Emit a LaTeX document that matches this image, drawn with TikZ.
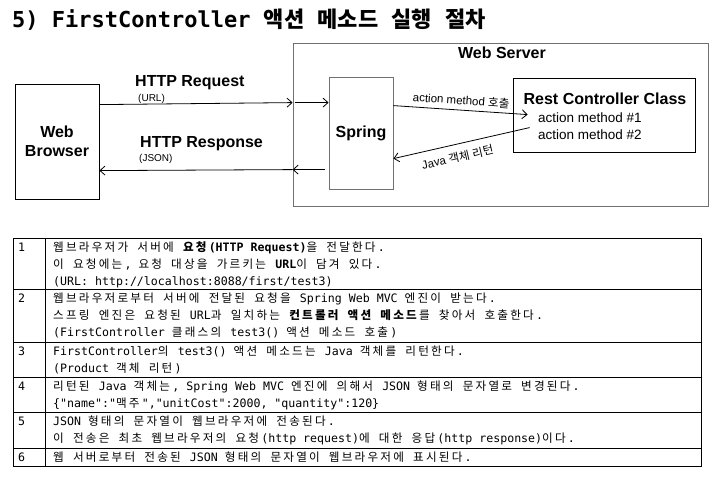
\documentclass[tikz,border=0pt]{standalone}
\usepackage{fontspec}
\setmainfont{Liberation Sans}
\setmonofont{DejaVu Sans Mono}
\newfontfamily\krfont{Noto Sans CJK KR}
\usetikzlibrary{arrows.meta,positioning}
\definecolor{boxgray}{RGB}{112,112,112}
% Hangul goes to the Korean font, everything else keeps the current one
\newdimen\hgap \hgap=0pt
\XeTeXinterchartokenstate=1
\newXeTeXintercharclass\hangul
\newcount\hcode
\hcode="AC00
\loop
  \XeTeXcharclass\hcode=\hangul
  \advance\hcode by 1
\ifnum\hcode<"D7A4 \repeat
\newcount\ocls
\ocls=0
\loop
  \XeTeXinterchartoks\ocls\hangul={\begingroup\krfont\let\krin\relax}
  \XeTeXinterchartoks\hangul\ocls={\ifx\krin\relax\kern\hgap\endgroup\fi}
  \advance\ocls by 1
\ifnum\ocls<\hangul \repeat
\XeTeXinterchartoks 4095 \hangul={\begingroup\krfont\let\krin\relax}
\XeTeXinterchartoks \hangul 4095={\ifx\krin\relax\kern\hgap\endgroup\fi}
\XeTeXinterchartoks \hangul\hangul={\kern\hgap}
\newcommand\cellfont{\ttfamily\fontsize{11.6}{14}\selectfont\hgap=2.2pt\relax}

\begin{document}
\begin{tikzpicture}[x=1pt, y=-1pt,
    box/.style={draw, line width=0.8pt, inner sep=0pt},
    graybox/.style={box, draw=boxgray},
    big/.style={font=\bfseries\fontsize{16}{19}\selectfont},
    small/.style={font=\fontsize{10}{12}\selectfont},
    lbl/.style={font=\fontsize{11.5}{13}\selectfont},
    arr/.style={-{Straight Barb[length=5pt,width=9pt]}, line width=0.8pt},
    rarr/.style={{Straight Barb[length=5pt,width=9pt]}-, line width=0.8pt},
    tbl/.style={line width=0.9pt},
    cell/.style={anchor=base west, inner sep=0pt, font=\cellfont}]
  \useasboundingbox (0,0) rectangle (723,486);

  % title
  \node[anchor=west, inner sep=0pt, font=\ttfamily\bfseries\fontsize{22}{26}\selectfont]
    (title) at (12,20) {5) FirstController 액션 메소드 실행 절차};

  % browser and server boxes
  \node[box, big, align=center, minimum width=84pt, minimum height=115pt]
    (browser) at (57,141.5) {Web\\Browser};
  \node[graybox, minimum width=415pt, minimum height=163pt] (server) at (500.5,124.5) {};
  \node[big, anchor=base] (servertxt) at (502,59) {Web Server};
  \node[graybox, big, minimum width=64pt, minimum height=112pt] (spring) at (361,133) {Spring};
  \node[box, minimum width=182pt, minimum height=74pt] (rest) at (604,115) {};
  \node[big, anchor=base] (resttxt) at (605,105) {Rest Controller Class};
  \node[anchor=base west, inner sep=0pt, font=\fontsize{13.5}{16}\selectfont]
    (m1) at (538,123) {action method \#1};
  \node[anchor=base west, inner sep=0pt, font=\fontsize{13.5}{16}\selectfont]
    (m2) at (538,140) {action method \#2};

  % request / response labels
  \node[big, anchor=base west, inner sep=0pt] (reqtxt) at (135,87) {HTTP Request};
  \node[small, anchor=base west, inner sep=0pt] (urltxt) at (138,101.6) {(URL)};
  \node[big, anchor=base west, inner sep=0pt] (restxt) at (140,148) {HTTP Response};
  \node[small, anchor=base west, inner sep=0pt] (jsontxt) at (139,161.6) {(JSON)};

  % request: browser -> server -> spring
  \draw[arr] ([yshift=-21pt]browser.north east) -- ([yshift=-60pt]server.north west);
  \draw[arr] ([xshift=2pt,yshift=-60pt]server.north west) -- ([yshift=-26pt]spring.north west);
  % response: spring -> server -> browser
  \draw[arr] ([xshift=-4pt,yshift=-93pt]spring.north west) -- ([yshift=-127pt]server.north west);
  \draw[arr] ([yshift=-127pt]server.north west) -- ([yshift=-87pt]browser.north east);
  % spring <-> controller
  \draw[arr] ([yshift=-29pt]spring.north east) -- ([xshift=15pt,yshift=-37pt]rest.north west)
    node[midway, sloped, above=1pt, lbl] (calltxt) {action method 호출};
  \draw[rarr] ([yshift=-82pt]spring.north east) -- ([xshift=17pt,yshift=-50pt]rest.north west)
    node[pos=0.45, sloped, below=4pt, lbl] (rettxt) {Java 객체 리턴};

  % table frame
  \draw[tbl] (13,238) rectangle (701,466);
  \draw[tbl] (45,238) -- (45,466);
  \foreach \y in {289,342,377,412,448} \draw[tbl] (13,\y) -- (701,\y);
  \foreach \n/\y in {1/238,2/289,3/342,4/377,5/412,6/448}
    \node[cell] (num\n) at (18,\y+13.2) {\n};

  % table rows
  \node[cell] (r1a) at (53,251.2) {웹브라우저가 서버에 \textbf{요청(HTTP Request)}을 전달한다.};
  \node[cell] (r1b) at (53,268.5) {이 요청에는, 요청 대상을 가르키는 \textbf{URL}이 담겨 있다.};
  \node[cell] (r1c) at (53,285.8) {(URL: http://localhost:8088/first/test3)};
  \node[cell] (r2a) at (53,302.2) {웹브라우저로부터 서버에 전달된 요청을 Spring Web MVC 엔진이 받는다.};
  \node[cell] (r2b) at (53,319.5) {스프링 엔진은 요청된 URL과 일치하는 \textbf{컨트롤러 액션 메소드}를 찾아서 호출한다.};
  \node[cell] (r2c) at (53,336.8) {(FirstController 클래스의 test3() 액션 메소드 호출)};
  \node[cell] (r3a) at (53,355.2) {FirstController의 test3() 액션 메소드는 Java 객체를 리턴한다.};
  \node[cell] (r3b) at (53,372.5) {(Product 객체 리턴)};
  \node[cell] (r4a) at (53,390.2) {리턴된 Java 객체는, Spring Web MVC 엔진에 의해서 JSON 형태의 문자열로 변경된다.};
  \node[cell] (r4b) at (53,407.5) {\{"name":"맥주","unitCost":2000, "quantity":120\}};
  \node[cell] (r5a) at (53,425.2) {JSON 형태의 문자열이 웹브라우저에 전송된다.};
  \node[cell] (r5b) at (53,442.5) {이 전송은 최초 웹브라우저의 요청(http request)에 대한 응답(http response)이다.};
  \node[cell] (r6a) at (53,461.2) {웹 서버로부터 전송된 JSON 형태의 문자열이 웹브라우저에 표시된다.};
\end{tikzpicture}
\end{document}
